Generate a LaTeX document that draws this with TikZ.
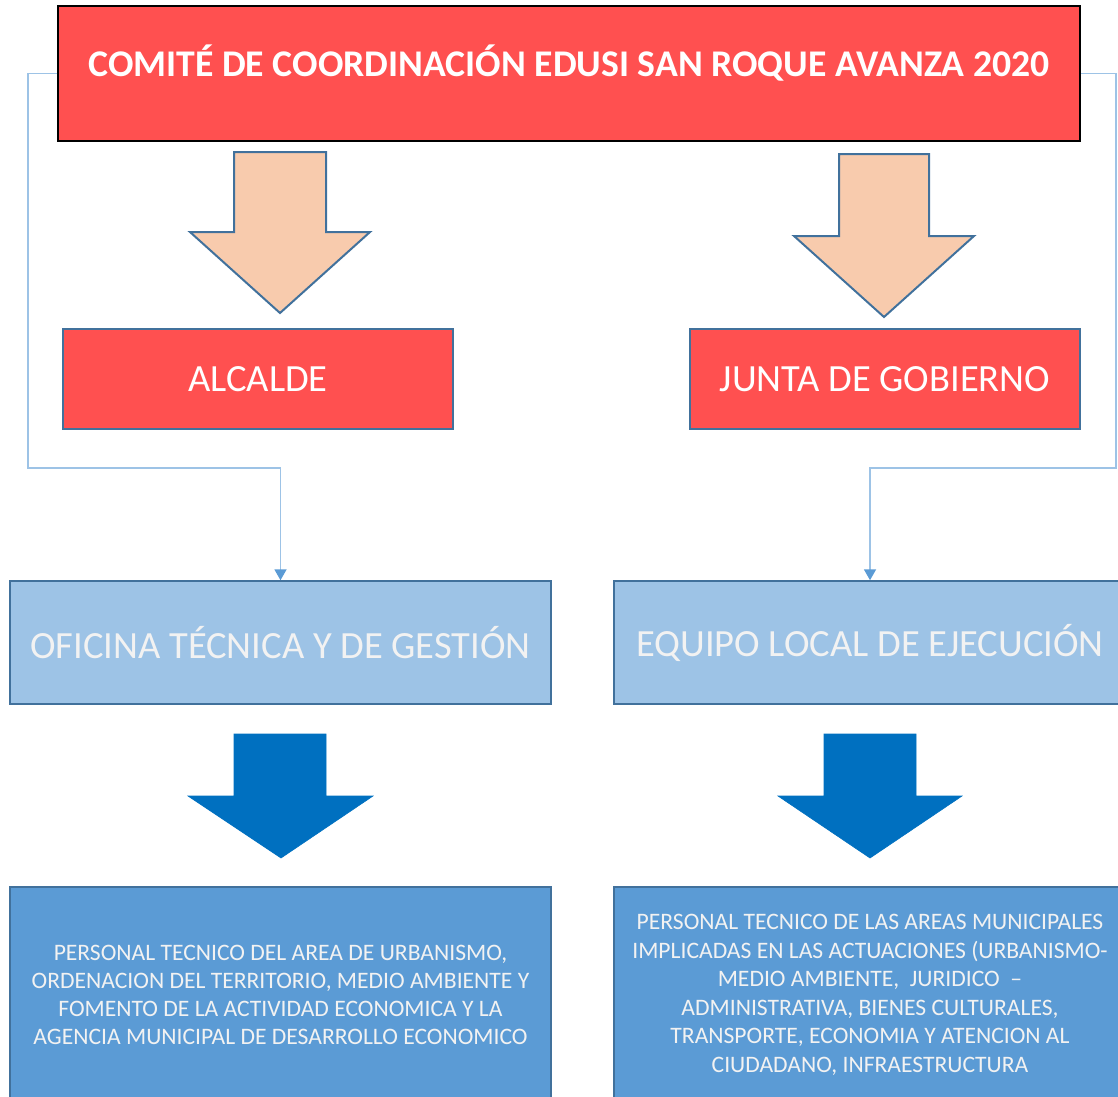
\documentclass[tikz,border=0pt]{standalone}
\usepackage{fontspec}
\setmainfont{Carlito}
\usepackage{tikz}
\usetikzlibrary{arrows.meta,positioning,calc}
\definecolor{rojo}{HTML}{FF5050}
\definecolor{melocoton}{HTML}{F8CBAD}
\definecolor{borde}{HTML}{41719C}
\definecolor{celeste}{HTML}{9DC3E6}
\definecolor{azulmedio}{HTML}{5B9BD5}
\definecolor{azuloscuro}{HTML}{0070C0}
\tikzset{
  caja/.style={draw=borde, line width=1.5pt, inner sep=0pt, align=center, text=white},
  conector/.style={draw=celeste, line width=1.8pt, -{Triangle[width=12pt,length=11pt,color=azulmedio]}},
  flechaclara/.style={draw=borde, line width=2pt, fill=melocoton, line join=miter},
  flechaoscura/.style={draw=azuloscuro, line width=0.6pt, fill=azuloscuro}
}
\begin{document}
\begin{tikzpicture}[x=1pt, y=-1pt]
        \useasboundingbox (0,0) rectangle (1118,1096);

        % cabecera
        \node[draw=black, line width=2pt, fill=rojo, minimum width=1022pt, minimum height=135pt, inner sep=0pt] (comite) at (569,73.5) {};
        \node[text=white, font=\bfseries\fontsize{37.7}{44}\selectfont] (titulo) at ([yshift=10pt]comite.center) {COMITÉ DE COORDINACIÓN EDUSI SAN ROQUE AVANZA 2020};

        % flechas melocoton
        \draw[flechaclara] (280,313) -- ++(-90,-81) -- ++(44,0) -- ++(0,-80) -- ++(92,0) -- ++(0,80) -- ++(44,0) -- cycle;
        \draw[flechaclara] (884,317) -- ++(-90,-81) -- ++(45,0) -- ++(0,-82) -- ++(90,0) -- ++(0,82) -- ++(45,0) -- cycle;

        % segundo nivel
        \node[caja, fill=rojo, minimum width=390pt, minimum height=100pt, font=\fontsize{38.5}{44}\selectfont] (alcalde) at (258,379) {ALCALDE};
        \node[caja, fill=rojo, minimum width=390pt, minimum height=100pt, font=\fontsize{38.5}{44}\selectfont] (junta) at (885,379) {JUNTA DE GOBIERNO};

        % tercer nivel
        \node[caja, fill=celeste, minimum width=541pt, minimum height=123pt, font=\fontsize{38.5}{44}\selectfont, text=white!95!black] (oficina) at (280.5,642.5) {OFICINA TÉCNICA Y DE GESTIÓN};
        \node[caja, fill=celeste, minimum width=512pt, minimum height=123pt, font=\fontsize{38.5}{44}\selectfont, text=white!95!black] (equipo) at (870,642.5) {EQUIPO LOCAL DE EJECUCIÓN};

        % conectores
        \coordinate (codoizq) at (28,468);
        \coordinate (cododer) at (1116,468);
        \draw[conector] (comite.west) -| (codoizq) -| (oficina.north);
        \draw[conector] (comite.east) -| (cododer) -| (equipo.north);

        % flechas azules
        \draw[flechaoscura] (281,858) -- ++(-93,-62) -- ++(46,0) -- ++(0,-62) -- ++(92,0) -- ++(0,62) -- ++(47,0) -- cycle;
        \draw[flechaoscura] (870,858) -- ++(-92,-62) -- ++(46,0) -- ++(0,-62) -- ++(92,0) -- ++(0,62) -- ++(46,0) -- cycle;

        % personal
        \node[caja, fill=azulmedio, minimum width=541pt, minimum height=216pt, font=\fontsize{23.6}{28}\selectfont, text=white!95!black] (personalizq) at (280.5,995) {PERSONAL TECNICO DEL AREA DE URBANISMO,\\ORDENACION DEL TERRITORIO, MEDIO AMBIENTE Y\\FOMENTO DE LA ACTIVIDAD ECONOMICA Y LA\\AGENCIA MUNICIPAL DE DESARROLLO ECONOMICO};
        \node[caja, fill=azulmedio, minimum width=512pt, minimum height=216pt, font=\fontsize{23.6}{28.5}\selectfont, text=white!95!black] (personalder) at (870,995) {PERSONAL TECNICO DE LAS AREAS MUNICIPALES\\IMPLICADAS EN LAS ACTUACIONES (URBANISMO-\\MEDIO AMBIENTE,\ \ JURIDICO\ \ --\\ADMINISTRATIVA, BIENES CULTURALES,\\TRANSPORTE, ECONOMIA Y ATENCION AL\\CIUDADANO, INFRAESTRUCTURA};
\end{tikzpicture}
\end{document}
